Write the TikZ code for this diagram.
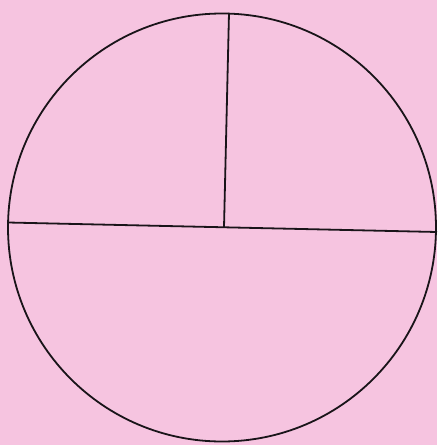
\documentclass[tikz,border=0pt]{standalone}
\definecolor{bgpink}{RGB}{246,196,224}
\definecolor{ink}{RGB}{25,20,25}
\begin{document}
\begin{tikzpicture}[x=1pt,y=-1pt,inkline/.style={draw=ink,line width=1.8pt}]
\fill[bgpink] (0,0) rectangle (437,445);
\useasboundingbox (0,0) rectangle (437,445);
\coordinate (c) at (222,227.5);
\coordinate (l) at (8,222.5);
\coordinate (r) at (437,232);
\coordinate (t) at (229,13);
\coordinate (m) at (224,227.5);
\draw[inkline] (c) circle [radius=214];
\draw[inkline] (l) -- (r);
\draw[inkline] (t) -- (m);
\end{tikzpicture}
\end{document}
